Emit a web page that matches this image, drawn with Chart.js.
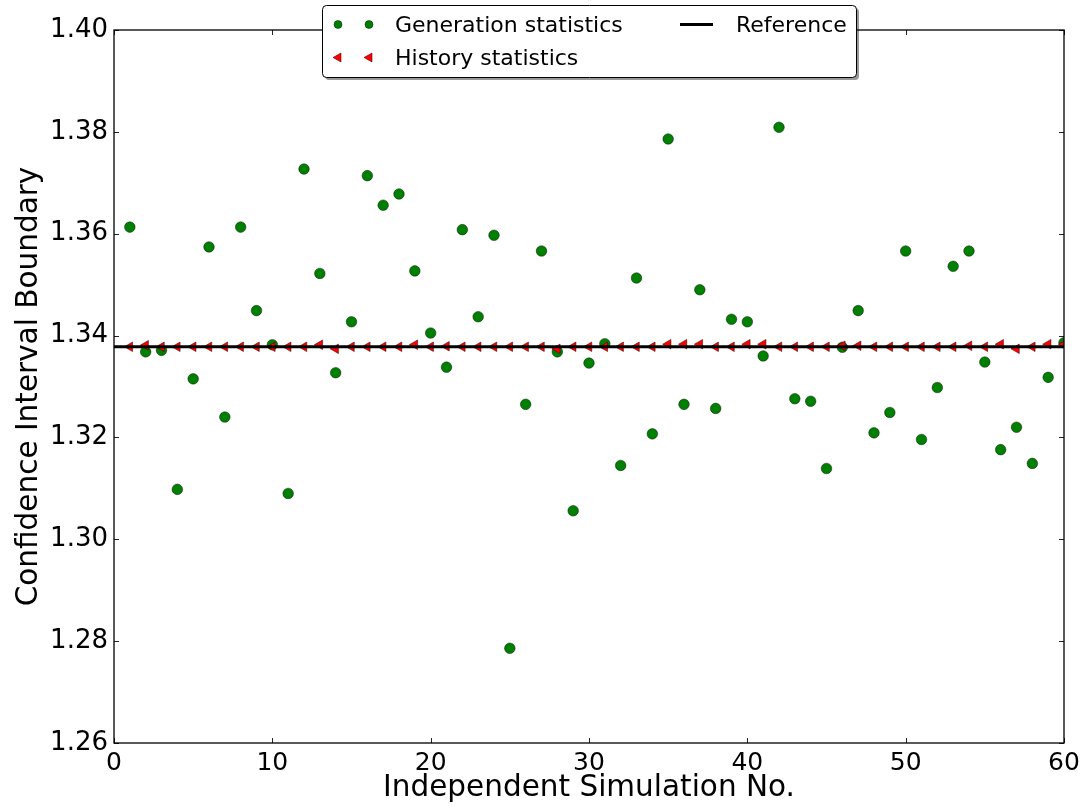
<!DOCTYPE html>
<html>
<head>
<meta charset="utf-8">
<script src="https://cdn.jsdelivr.net/npm/chart.js@4.4.0/dist/chart.umd.min.js"></script>
<style>
  html, body { margin: 0; padding: 0; background: #fff; }
  #wrap { width: 1087px; height: 809px; }
</style>
</head>
<body>
<div id="wrap"><canvas id="chart" width="1087" height="809"></canvas></div>
<script>
let runs = [];
for (let i = 1; i <= 60; i++) runs.push(i);

let generation = [
  1.3613, 1.3368, 1.3371, 1.3098, 1.3315, 1.3574, 1.3240, 1.3613, 1.3449, 1.3382,
  1.3090, 1.3727, 1.3522, 1.3327, 1.3427, 1.3714, 1.3656, 1.3678, 1.3527, 1.3405,
  1.3338, 1.3608, 1.3437, 1.3597, 1.2786, 1.3265, 1.3566, 1.3368, 1.3056, 1.3346,
  1.3384, 1.3145, 1.3513, 1.3207, 1.3786, 1.3265, 1.3490, 1.3257, 1.3432, 1.3427,
  1.3360, 1.3809, 1.3276, 1.3271, 1.3139, 1.3377, 1.3449, 1.3209, 1.3249, 1.3566,
  1.3196, 1.3298, 1.3536, 1.3566, 1.3348, 1.3176, 1.3220, 1.3149, 1.3318, 1.3386
];

let history = [
  1.3378, 1.3381, 1.3378, 1.3378, 1.3378, 1.3378, 1.3378, 1.3378, 1.3378, 1.3378,
  1.3378, 1.3378, 1.3382, 1.3374, 1.3378, 1.3378, 1.3378, 1.3378, 1.3382, 1.3378,
  1.3379, 1.3378, 1.3378, 1.3378, 1.3378, 1.3378, 1.3378, 1.3374, 1.3378, 1.3378,
  1.3378, 1.3378, 1.3378, 1.3378, 1.3383, 1.3383, 1.3383, 1.3378, 1.3378, 1.3383,
  1.3383, 1.3378, 1.3378, 1.3378, 1.3378, 1.3380, 1.3380, 1.3378, 1.3378, 1.3378,
  1.3378, 1.3378, 1.3378, 1.3380, 1.3378, 1.3383, 1.3374, 1.3378, 1.3383, 1.3383
];

let referenceValue = 1.3378;
let xLimits = [0, 60];
let xTicks = [0, 10, 20, 30, 40, 50, 60];
let yTicks = [1.26, 1.28, 1.30, 1.32, 1.34, 1.36, 1.38, 1.40];

const FONT = "'DejaVu Sans', 'Liberation Sans', sans-serif";

// matplotlib style frame with inward ticks on all four sides
const framePlugin = {
  id: 'frame',
  afterDatasetsDraw(chart) {
    const {ctx, chartArea: a, scales: {x, y}} = chart;
    ctx.save();
    ctx.strokeStyle = '#222';
    ctx.lineWidth = 1;
    ctx.beginPath();
    xTicks.forEach(v => {
      let px = Math.round(x.getPixelForValue(v)) + 0.5;
      ctx.moveTo(px, a.bottom); ctx.lineTo(px, a.bottom - 5);
      ctx.moveTo(px, a.top); ctx.lineTo(px, a.top + 5);
    });
    yTicks.forEach(v => {
      let py = Math.round(y.getPixelForValue(v)) + 0.5;
      ctx.moveTo(a.left, py); ctx.lineTo(a.left + 5, py);
      ctx.moveTo(a.right, py); ctx.lineTo(a.right - 5, py);
    });
    ctx.stroke();
    ctx.strokeStyle = '#000';
    ctx.lineWidth = 1.3;
    ctx.strokeRect(a.left, a.top, a.right - a.left, a.bottom - a.top);
    ctx.restore();
  }
};

function roundRect(ctx, x, y, w, h, r) {
  ctx.beginPath();
  ctx.moveTo(x + r, y);
  ctx.lineTo(x + w - r, y);
  ctx.quadraticCurveTo(x + w, y, x + w, y + r);
  ctx.lineTo(x + w, y + h - r);
  ctx.quadraticCurveTo(x + w, y + h, x + w - r, y + h);
  ctx.lineTo(x + r, y + h);
  ctx.quadraticCurveTo(x, y + h, x, y + h - r);
  ctx.lineTo(x, y + r);
  ctx.quadraticCurveTo(x, y, x + r, y);
  ctx.closePath();
}

// two column legend with a shadow, like the matplotlib one
const legendPlugin = {
  id: 'mplLegend',
  afterDraw(chart) {
    const ctx = chart.ctx;
    const ds = chart.data.datasets;
    const gen = ds.find(d => d.label === 'Generation statistics');
    const his = ds.find(d => d.label === 'History statistics');
    const ref = ds.find(d => d.label === 'Reference');
    let bx = 322, by = 5, bw = 534, bh = 72;
    ctx.save();
    ctx.fillStyle = 'rgba(0,0,0,0.4)';
    roundRect(ctx, bx + 3, by + 3, bw, bh, 4);
    ctx.fill();
    ctx.fillStyle = '#fff';
    ctx.strokeStyle = '#000';
    ctx.lineWidth = 1;
    roundRect(ctx, bx + 0.5, by + 0.5, bw, bh, 4);
    ctx.fill();
    ctx.stroke();

    let row1 = 24.5, row2 = 57.5;
    [338, 369].forEach(cx => {
      ctx.beginPath();
      ctx.arc(cx, row1, 4, 0, Math.PI * 2);
      ctx.fillStyle = gen.backgroundColor;
      ctx.fill();
      ctx.strokeStyle = gen.borderColor;
      ctx.lineWidth = 0.8;
      ctx.stroke();

      ctx.beginPath();
      ctx.moveTo(cx - 5, row2);
      ctx.lineTo(cx + 3, row2 - 4.5);
      ctx.lineTo(cx + 3, row2 + 4.5);
      ctx.closePath();
      ctx.fillStyle = his.backgroundColor;
      ctx.fill();
      ctx.strokeStyle = his.borderColor;
      ctx.stroke();
    });

    ctx.beginPath();
    ctx.moveTo(680, row1);
    ctx.lineTo(713, row1);
    ctx.strokeStyle = ref.borderColor;
    ctx.lineWidth = 3;
    ctx.stroke();

    ctx.fillStyle = '#000';
    ctx.font = '22px ' + FONT;
    ctx.textBaseline = 'middle';
    ctx.textAlign = 'left';
    ctx.fillText(gen.label, 395, row1 + 2);
    ctx.fillText(his.label, 395, row2 + 2);
    ctx.fillText(ref.label, 736, row1 + 2);
    ctx.restore();
  }
};

new Chart(document.getElementById('chart'), {
  type: 'scatter',
  data: {
    datasets: [
      {
        label: 'Reference',
        data: xLimits.map(v => ({x: v, y: referenceValue})),
        showLine: true,
        borderColor: '#000',
        borderWidth: 3,
        pointRadius: 0,
        order: 0
      },
      {
        label: 'History statistics',
        data: runs.map((r, i) => ({x: r, y: history[i]})),
        pointStyle: 'triangle',
        rotation: -90,
        pointRadius: 5.5,
        backgroundColor: '#ff0000',
        borderColor: 'rgba(70,0,0,0.7)',
        borderWidth: 0.8,
        order: 1
      },
      {
        label: 'Generation statistics',
        data: runs.map((r, i) => ({x: r, y: generation[i]})),
        pointStyle: 'circle',
        pointRadius: 5.3,
        backgroundColor: '#008000',
        borderColor: 'rgba(0,0,0,0.55)',
        borderWidth: 0.8,
        order: 2
      }
    ]
  },
  options: {
    responsive: false,
    devicePixelRatio: 1,
    animation: false,
    events: [],
    layout: { padding: { top: 30, right: 23, left: 0, bottom: 0 } },
    plugins: {
      legend: { display: false },
      tooltip: { enabled: false }
    },
    scales: {
      x: {
        type: 'linear',
        min: 0,
        max: 60,
        afterBuildTicks: s => { s.ticks = xTicks.map(v => ({value: v})); },
        afterFit: s => { s.height = 66; },
        grid: { display: false, drawTicks: false },
        border: { display: false },
        ticks: { color: '#000', padding: 5, font: { family: FONT, size: 25 } },
        title: {
          display: true,
          text: 'Independent Simulation No.',
          color: '#000',
          padding: { top: 0, bottom: 3 },
          font: { family: FONT, size: 29.5 }
        }
      },
      y: {
        type: 'linear',
        min: 1.26,
        max: 1.40,
        afterBuildTicks: s => { s.ticks = yTicks.map(v => ({value: v})); },
        afterFit: s => { s.width = 114; },
        grid: { display: false, drawTicks: false },
        border: { display: false },
        ticks: {
          color: '#000',
          padding: 6,
          font: { family: FONT, size: 26 },
          callback: v => v.toFixed(2)
        },
        title: {
          display: true,
          text: 'Confidence Interval Boundary',
          color: '#000',
          padding: { top: 12, bottom: 0 },
          font: { family: FONT, size: 29.5 }
        }
      }
    }
  },
  plugins: [framePlugin, legendPlugin]
});
</script>
</body>
</html>
